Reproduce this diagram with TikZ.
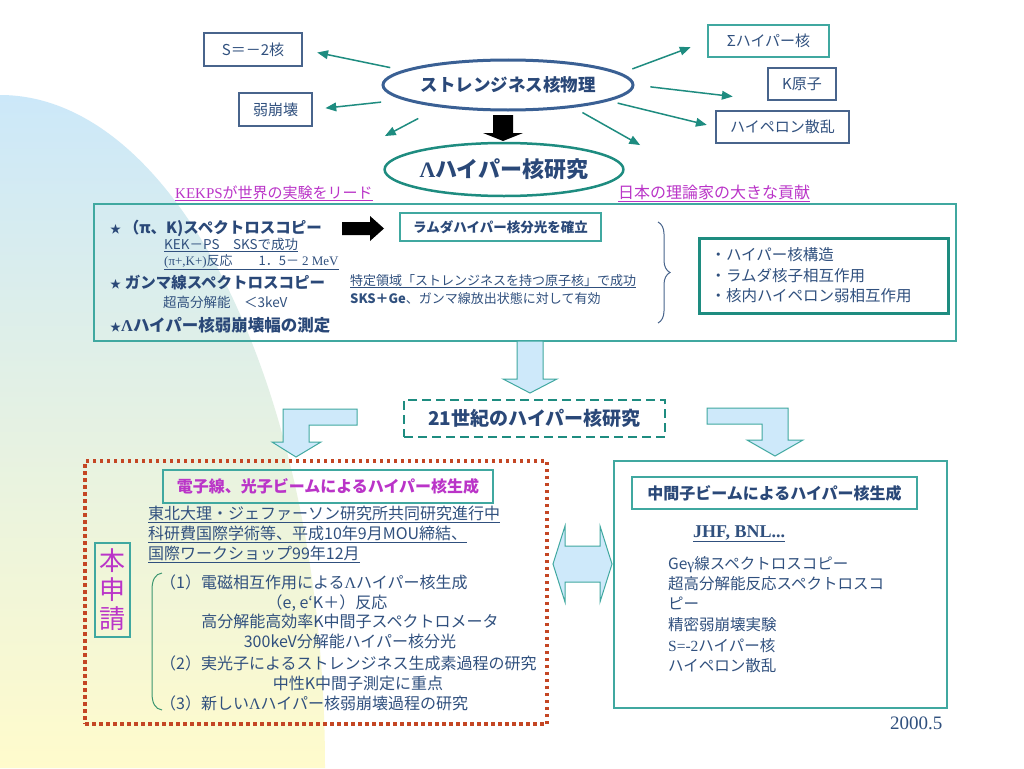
\documentclass[tikz,border=0pt]{standalone}
\usepackage{fontspec}
\setmainfont{Noto Sans CJK JP}
\newfontfamily\tmsfont{Liberation Serif}
\usepackage{xcolor}
\usetikzlibrary{arrows, shapes.geometric, decorations.pathreplacing}
\definecolor{tblue}{RGB}{48,80,126}
\definecolor{hblue}{RGB}{42,72,120}
\definecolor{teal1}{RGB}{30,140,128}
\definecolor{tealb}{RGB}{64,168,160}
\definecolor{slate}{RGB}{72,100,140}
\definecolor{ellb}{RGB}{58,96,148}
\definecolor{mag}{RGB}{186,52,200}
\definecolor{dred}{RGB}{196,70,36}
\definecolor{lblue}{RGB}{206,233,250}
\definecolor{bgblue}{RGB}{204,232,249}
\definecolor{bgyel}{RGB}{255,251,204}
\definecolor{brk}{RGB}{60,150,112}
\newcommand{\fsz}[1]{\fontsize{#1}{#1}\selectfont}

\begin{document}
\begin{tikzpicture}[x=1pt, y=-1pt,
	txt/.style={inner sep=0, text=tblue, anchor=base west},
	ctxt/.style={txt, anchor=base},
	bx/.style={draw=slate, line width=1.2, inner sep=0, text=tblue, font=\fsz{15}},
	tbx/.style={bx, draw=tealb},
	arr/.style={draw=teal1, line width=1.5, -triangle 45},
	blk/.style={fill=lblue, draw=tealb, line width=1}]
	\useasboundingbox (0,0) rectangle (1024,768);
	\fill[white] (0,0) rectangle (1024,768);
	\shade[top color=bgblue, bottom color=bgyel] (0,95) arc[start angle=-90, end angle=0, x radius=325, y radius=673] -- (0,768) -- cycle;
	\node[ellipse, draw=ellb, line width=3, minimum width=250, minimum height=50, inner sep=0, text=hblue, font=\fsz{17.5}\bfseries] (phys) at (508,85) {ストレンジネス核物理};
	\node[ellipse, draw=teal1, line width=2.5, minimum width=222, minimum height=53, inner sep=0, text=hblue, font=\fsz{22}\bfseries] (lam) at (504,169.5) {{\tmsfont Λ}ハイパー核研究};
	\fill[black] (493,115) -- (513,115) -- (513,133) -- (523,133) -- (503,141) -- (483,133) -- (493,133) -- cycle;
	\node[bx, minimum width=98, minimum height=33] (sbox) at (253,49.5) {S＝－2核};
	\node[bx, minimum width=73, minimum height=33] (jbox) at (275.5,109.5) {弱崩壊};
	\node[tbx, minimum width=121, minimum height=32] (sigma) at (768.5,41) {Σハイパー核};
	\node[bx, minimum width=68, minimum height=32] (kbox) at (802,84) {K原子};
	\node[bx, minimum width=133, minimum height=32] (hbox) at (782.5,127) {ハイペロン散乱};
	\coordinate (ll) at (385,136);
	\coordinate (lr) at (640,145);
	\draw[arr, shorten <=13, shorten >=15] (phys.172) -- (sbox.east);
	\draw[arr, shorten <=22, shorten >=13] (phys.188) -- (jbox.east);
	\draw[arr, shorten <=24] (phys.198) -- (ll);
	\draw[arr, shorten <=12, shorten >=18] (phys.6) -- (sigma.west);
	\draw[arr, shorten <=16, shorten >=35] (phys.east) -- (kbox.south west);
	\draw[arr, shorten <=9, shorten >=9] (phys.351) -- (hbox.west);
	\draw[arr, shorten <=10] (phys.341) -- (lr);
	\node[txt, text=mag, font=\fsz{15}] (kek) at (175,198) {\underline{{\tmsfont KEKPS}が世界の実験をリード}};
	\node[txt, text=mag, font=\fsz{16}] (nihon) at (618,198) {\underline{日本の理論家の大きな貢献}};
	\node[draw=tealb, line width=1.2, minimum width=862, minimum height=137, inner sep=0] (main) at (525,272.5) {};
	\node[txt, text=hblue, font=\fsz{15.5}\bfseries] (pik) at (110,233) {{\fsz{11}★}\,（π、K)スペクトロスコピー};
	\node[txt, font=\fsz{13.5}] (kekps) at (164,249) {\underline{KEK－PS　SKSで成功}};
	\node[txt, font=\fsz{13}] (react) at (164,265) {\underline{{\tmsfont (π+,K+)}反応　　1．5－ {\tmsfont 2 MeV}}};
	\node[txt, text=hblue, font=\fsz{15.5}\bfseries] (gam) at (110,288) {{\fsz{11}★}\ ガンマ線スペクトロスコピー};
	\node[txt, font=\fsz{13.5}] (reso) at (163,307) {超高分解能　＜3keV};
	\node[txt, text=hblue, font=\fsz{16.5}\bfseries] (weak) at (110,331) {{\fsz{11}★}{\tmsfont Λ}ハイパー核弱崩壊幅の測定};
	\fill[black] (342,222) -- (370,222) -- (370,216) -- (384,228.5) -- (370,241) -- (370,235) -- (342,235) -- cycle;
	\node[tbx, minimum width=201, minimum height=28, text=hblue, font=\fsz{13.5}\bfseries] (estab) at (500.5,227) {ラムダハイパー核分光を確立};
	\node[txt, font=\fsz{13}] (spec) at (350,285) {\underline{特定領域「ストレンジネスを持つ原子核」で成功}};
	\node[txt, font=\fsz{13}] (ge) at (350,303) {{\bfseries SKS＋Ge}、ガンマ線放出状態に対して有効};
	\draw[slate, line width=1, decorate, decoration={brace, amplitude=12}] (658,222) -- (658,323);
	\node[draw=teal1, line width=3, inner xsep=11.5, inner ysep=0, minimum height=75, text width=226, align=left, text=tblue, font=\fontsize{15.5}{20.5}\selectfont] (feat) at (823.5,275.5) {・ハイパー核構造\\・ラムダ核子相互作用\\・核内ハイペロン弱相互作用};
	\filldraw[blk] (517,341) -- (543,341) -- (543,379) -- (557,379) -- (530,393) -- (503,379) -- (517,379) -- cycle;
	\node[draw=teal1, line width=2, dash pattern=on 9pt off 5pt, minimum width=261, minimum height=37, inner sep=0, text=hblue, font=\fsz{19}\bfseries] (cent) at (534.5,418.5) {21世紀のハイパー核研究};
	\filldraw[blk] (357,409) -- (283,409) -- (283,442) -- (272,442) -- (296,457) -- (321,442) -- (309,442) -- (309,425) -- (357,425) -- cycle;
	\filldraw[blk] (707,408) -- (788,408) -- (788,440) -- (803,440) -- (775,456) -- (747,440) -- (762,440) -- (762,424) -- (707,424) -- cycle;
	\node[draw=dred, line width=3.5, dash pattern=on 3.5pt off 3.5pt, minimum width=462, minimum height=263, inner sep=0] (prop) at (316,592.5) {};
	\node[tbx, minimum width=330, minimum height=33, text=mag, font=\fsz{16}\bfseries] (ebeam) at (328,486.5) {電子線、光子ビームによるハイパー核生成};
	\node[txt, font=\fsz{16}] (tohoku) at (148,519) {\underline{東北大理・ジェファーソン研究所共同研究進行中}};
	\node[txt, font=\fsz{16}] (kaken) at (148,539) {\underline{科研費国際学術等、平成10年9月MOU締結、}};
	\node[txt, font=\fsz{16}] (ws) at (148,559) {\underline{国際ワークショップ99年12月}};
	\node[tbx, minimum width=35, minimum height=94, text=mag, align=center, font=\fontsize{26}{29}\selectfont] (apply) at (112.5,590) {本\\申\\請};
	\draw[brk, line width=1] (162,573) .. controls (155,574) and (152,580) .. (152,590) -- (152,693) .. controls (152,703) and (155,709) .. (162,710);
	\node[txt, font=\fsz{16}] (p1) at (160,588) {（1）電磁相互作用による{\tmsfont Λ}ハイパー核生成};
	\node[ctxt, font=\fsz{16}] (p2) at (327,608) {（e, e‘K＋）反応};
	\node[ctxt, font=\fsz{16}] (p3) at (350,627) {高分解能高効率K中間子スペクトロメータ};
	\node[ctxt, font=\fsz{16}] (p4) at (350,647) {300keV分解能ハイパー核分光};
	\node[txt, font=\fsz{16}] (p5) at (160,669) {（2）実光子によるストレンジネス生成素過程の研究};
	\node[ctxt, font=\fsz{16}] (p6) at (358,689) {中性K中間子測定に重点};
	\node[txt, font=\fsz{16}] (p7) at (160,709) {（3）新しい{\tmsfont Λ}ハイパー核弱崩壊過程の研究};
	\filldraw[blk] (553,564) -- (565,526) -- (565,546) -- (600,546) -- (600,526) -- (612,564) -- (600,602) -- (600,582) -- (565,582) -- (565,602) -- cycle;
	\node[draw=tealb, line width=1.2, minimum width=333, minimum height=247, inner sep=0] (meson) at (780.5,584.5) {};
	\node[tbx, minimum width=285, minimum height=32, text=hblue, font=\fsz{16}\bfseries] (mtitle) at (774.5,493) {中間子ビームによるハイパー核生成};
	\node[txt, font=\tmsfont\fsz{18}\bfseries] (jhf) at (693,537) {\underline{JHF, BNL...}};
	\node[txt, font=\fsz{15.5}] (g1) at (668,569) {Ge{\tmsfont γ}線スペクトロスコピー};
	\node[txt, font=\fsz{15.5}] (g2) at (668,589) {超高分解能反応スペクトロスコ};
	\node[txt, font=\fsz{15.5}] (g3) at (668,609) {ピー};
	\node[txt, font=\fsz{15.5}] (g4) at (668,630) {精密弱崩壊実験};
	\node[txt, font=\fsz{15.5}] (g5) at (668,651) {{\tmsfont S=-2}ハイパー核};
	\node[txt, font=\fsz{15.5}] (g6) at (668,671) {ハイペロン散乱};
	\node[txt, font=\tmsfont\fsz{19}] (date) at (890,729.5) {2000.5};
\end{tikzpicture}
\end{document}
